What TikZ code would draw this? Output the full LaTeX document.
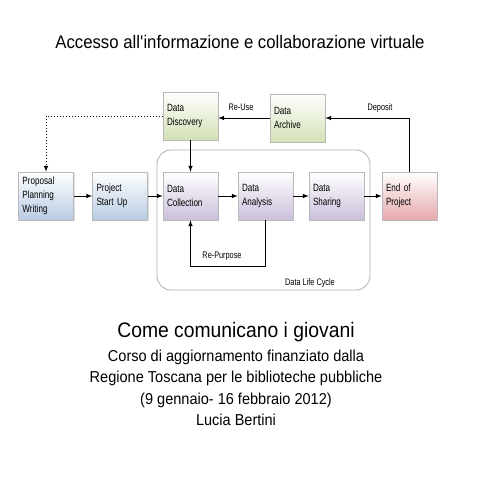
\documentclass[tikz,border=0pt]{standalone}
\usepackage{fontspec}
\setmainfont[FakeStretch=0.92]{Liberation Sans}
\newfontfamily\boxfont[FakeStretch=0.77]{Liberation Sans}
\usetikzlibrary{shadows}

\definecolor{stgreen}{HTML}{D3E1B5}
\definecolor{stblue}{HTML}{B8CCE4}
\definecolor{stpurple}{HTML}{CBBFDB}
\definecolor{stred}{HTML}{E6A8AC}

\tikzset{
  stage/.style={draw=gray!55, line width=0.6pt, top color=white, bottom color=#1,
    minimum width=55pt, minimum height=48pt, text width=47pt, inner xsep=4pt,
    align=left, font=\boxfont\fontsize{10.5}{13.8}\selectfont,
    drop shadow={opacity=0.25, shadow xshift=1pt, shadow yshift=-1.2pt}},
  flow/.style={line width=1pt, -latex},
  tag/.style={font=\boxfont\fontsize{9.5}{10}\selectfont},
}

\begin{document}
\begin{tikzpicture}[x=1pt, y=-1pt]

            \fill[white] (0,0) rectangle (480,480);
            \useasboundingbox (0,0) rectangle (480,480);

            \node (title) at (240, 42) { \fontsize{18.2}{22}\selectfont Accesso all\textquotesingle informazione e collaborazione virtuale };

            % life cycle frame
            \node[draw=gray!60, line width=0.8pt, rounded corners=14pt, minimum width=213pt, minimum height=140pt] (lc) at (263.5, 220) {};

            \node[stage=stgreen] (disc) at (190.5, 116) { Data\\ Discovery };
            \node[stage=stgreen] (arch) at (297.5, 118) { Data\\ Archive };

            \node[stage=stblue] (prop) at (46, 196) { Proposal\\ Planning\\ Writing };
            \node[stage=stblue] (start) at (120, 196) { Project\\ Start Up };
            \node[stage=stpurple] (coll) at (190.5, 196) { Data\\ Collection };
            \node[stage=stpurple] (anal) at (265.5, 196) { Data\\ Analysis };
            \node[stage=stpurple] (shar) at (336.5, 196) { Data\\ Sharing };
            \node[stage=stred] (endp) at (409.5, 196) { End of\\ Project };

            \coordinate (rp) at (190.5, 266);

            \draw[flow] (prop) -- (start);
            \draw[flow] (start) -- (coll);
            \draw[flow] (coll) -- (anal);
            \draw[flow] (anal) -- (shar);
            \draw[flow] (shar) -- (endp);
            \draw[flow] (disc) -- (coll);
            \draw[flow] (endp.north) |- (arch.east);
            \draw[flow] (arch.west) -- (arch.west -| disc.east);
            \draw[flow] (anal.south) |- (rp) -- (coll.south);
            \draw[flow, dotted] (disc.west) -| (prop.north);

            \node[tag] (reuse) at (241, 107) { Re-Use };
            \node[tag] (depo) at (380, 108) { Deposit };
            \node[tag] (repu) at (222, 256) { Re-Purpose };
            \node[tag] (lclab) at (310, 283) { Data Life Cycle };

            \node (sub1) at (236, 332) { \fontsize{21}{24}\selectfont Come comunicano i giovani };
            \node (sub2) at (236, 357) { \fontsize{15.8}{18}\selectfont Corso di aggiornamento finanziato dalla };
            \node (sub3) at (236, 378) { \fontsize{15.8}{18}\selectfont Regione Toscana per le biblioteche pubbliche };
            \node (sub4) at (236, 400) { \fontsize{15.8}{18}\selectfont (9 gennaio- 16 febbraio 2012) };
            \node (sub5) at (236, 420) { \fontsize{15.8}{18}\selectfont Lucia Bertini };
        \end{tikzpicture}
\end{document}
